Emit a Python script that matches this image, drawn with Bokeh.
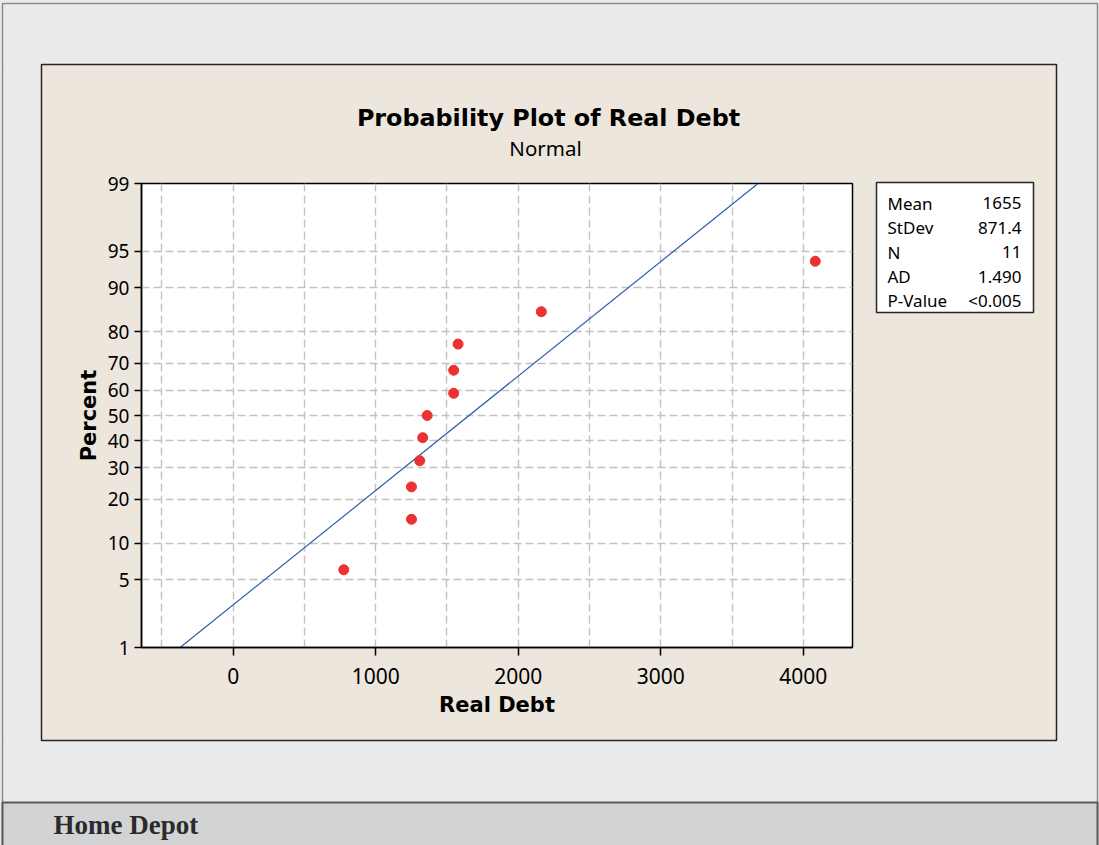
from statistics import NormalDist
from bokeh.plotting import figure
from bokeh.models import FixedTicker, CustomJSTickFormatter, Range1d
from bokeh.core.properties import value
from bokeh.embed import file_html
from bokeh.resources import INLINE

# ---------------- data ----------------
real_debt = [776, 1251, 1251, 1309, 1330, 1361, 1547, 1547, 1578, 2162, 4084]
percent = [6.1, 14.9, 23.7, 32.5, 41.2, 50.0, 58.8, 67.5, 76.3, 85.1, 93.9]
y_tick_pct = [1, 5, 10, 20, 30, 40, 50, 60, 70, 80, 90, 95, 99]
y_tick_labels = ["1", "5", "10", "20", "30", "40", "50", "60", "70", "80", "90", "95", "99"]
x_ticks = [0, 1000, 2000, 3000, 4000]
x_grid_ticks = [-500, 0, 500, 1000, 1500, 2000, 2500, 3000, 3500, 4000]
stat_names = ["Mean", "StDev", "N", "AD", "P-Value"]
stat_values = ["1655", "871.4", "11", "1.490", "<0.005"]
fit_mean = 1655
fit_stdev = 871.4
x_lo, x_hi = -643, 4345
pct_lo, pct_hi = 1, 99

nd = NormalDist()
def z(pct):
    return nd.inv_cdf(pct / 100.0)

zl, zh = z(pct_lo), z(pct_hi)

# ---------------- page geometry (page pixels) ----------------
W, H = 1099, 845
FL, FR, FT, FB = 141, 852, 183, 647

# page pixel -> data coordinate (through the plot's linear scales)
def dx(px):
    return x_lo + (px - FL) * (x_hi - x_lo) / (FR - FL)

def dy(py):
    return zh - (py - FT) * (zh - zl) / (FB - FT)

p = figure(width=W, height=H, output_backend="svg", toolbar_location=None,
           x_range=Range1d(x_lo, x_hi), y_range=Range1d(zl, zh),
           min_border_left=FL, min_border_right=W - FR,
           min_border_top=FT, min_border_bottom=H - FB)
p.border_fill_color = "#ece6dc"
p.background_fill_color = "white"
p.outline_line_color = "black"
p.outline_line_width = 1.5

# axes
p.xaxis.ticker = FixedTicker(ticks=x_ticks)
p.xaxis.major_tick_out = 8
p.xaxis.major_tick_in = 0
p.xaxis.minor_tick_out = 0
p.xaxis.minor_tick_in = 0
p.xaxis.major_label_text_font = "Noto Sans"
p.xaxis.major_label_text_font_size = "21px"
p.xaxis.major_label_text_color = "black"
p.xaxis.major_label_standoff = 12
p.xaxis.axis_label = "Real Debt"
p.xaxis.axis_label_text_font = "DejaVu Sans"
p.xaxis.axis_label_text_font_style = "bold"
p.xaxis.axis_label_text_font_size = "21px"
p.xaxis.axis_label_text_color = "black"
p.xaxis.axis_label_standoff = 6

yt = [z(v) for v in y_tick_pct]
p.yaxis.ticker = FixedTicker(ticks=yt)
p.yaxis.formatter = CustomJSTickFormatter(
    args=dict(tvals=yt, tlabels=y_tick_labels),
    code="""
    let best = 0, bd = 1e9;
    for (let i = 0; i < tvals.length; i++) {
        const d = Math.abs(tvals[i] - tick);
        if (d < bd) { bd = d; best = i; }
    }
    return tlabels[best];
    """)
p.yaxis.major_tick_out = 7
p.yaxis.major_tick_in = 0
p.yaxis.minor_tick_out = 0
p.yaxis.minor_tick_in = 0
p.yaxis.major_label_text_font = "Noto Sans"
p.yaxis.major_label_text_font_size = "19px"
p.yaxis.major_label_text_color = "black"
p.yaxis.major_label_standoff = 5
p.yaxis.axis_label = "Percent"
p.yaxis.axis_label_text_font = "DejaVu Sans"
p.yaxis.axis_label_text_font_style = "bold"
p.yaxis.axis_label_text_font_size = "21px"
p.yaxis.axis_label_text_color = "black"
p.yaxis.axis_label_standoff = 4

for ax in (p.xaxis, p.yaxis):
    ax.axis_line_color = "black"
    ax.axis_line_width = 1.5
    ax.major_tick_line_color = "black"
    ax.major_tick_line_width = 1.5

# grids
p.xgrid.ticker = FixedTicker(ticks=x_grid_ticks)
p.ygrid.ticker = FixedTicker(ticks=[z(v) for v in y_tick_pct[1:-1]])
for g in (p.xgrid, p.ygrid):
    g.grid_line_color = "#c2c2c2"
    g.grid_line_dash = "8 4"
    g.grid_line_width = 1.4

# fitted line and points
p.line([fit_mean + fit_stdev * zl, fit_mean + fit_stdev * zh], [zl, zh],
       line_color="#2c5ead", line_width=1.2)
p.scatter(real_debt, [z(v) for v in percent], size=10, fill_color="#eb3131",
          line_color="#eb3131")

# ---------------- page decorations (drawn above the frame clip) ----------------
GRAY = "#ebebed"
p.quad(left=[dx(-10), dx(-10), dx(1056), dx(-10)],
       right=[dx(1110), dx(41), dx(1110), dx(1110)],
       top=[dy(-10), dy(64), dy(64), dy(740)],
       bottom=[dy(64), dy(740), dy(740), dy(860)],
       fill_color=GRAY, line_color=None, level="overlay")
# outer border
p.quad(left=[dx(2)], right=[dx(1097)], top=[dy(3)], bottom=[dy(860)],
       fill_color=None, line_color="#8a8a8a", line_width=1.5, level="overlay")
# beige panel border
p.quad(left=[dx(41)], right=[dx(1056)], top=[dy(64)], bottom=[dy(740)],
       fill_color=None, line_color="#262626", line_width=1.5, level="overlay")
# footer strip
p.quad(left=[dx(2)], right=[dx(1097)], top=[dy(802)], bottom=[dy(860)],
       fill_color="#d2d3d5", line_color="#5a5a5a", line_width=2, level="overlay")
# stats box
p.quad(left=[dx(876)], right=[dx(1033)], top=[dy(182)], bottom=[dy(312)],
       fill_color="white", line_color="#262626", line_width=1.5, level="overlay")

# text placement: wanted baseline minus a measured render offset
def base(py, size):
    return dy(py - 0.38 * size)

# titles
p.text(x=[dx(548)], y=[base(126.7, 23.8)], text=["Probability Plot of Real Debt"],
       text_align="center", text_baseline="alphabetic",
       text_font=value("DejaVu Sans"), text_font_style="bold",
       text_font_size="23.8px", text_color="black", level="overlay")
p.text(x=[dx(545)], y=[base(155.0, 20.5)], text=["Normal"],
       text_align="center", text_baseline="alphabetic",
       text_font=value("Noto Sans"), text_font_size="20.5px",
       text_color="black", level="overlay")

# stats table
rows_y = [base(209.3 + i * 24.4, 17) for i in range(len(stat_names))]
p.text(x=[dx(887)] * len(stat_names), y=rows_y, text=stat_names,
       text_align="left", text_baseline="alphabetic",
       text_font=value("Noto Sans"), text_font_size="17px",
       text_color="black", level="overlay")
p.text(x=[dx(1021)] * len(stat_values), y=rows_y, text=stat_values,
       text_align="right", text_baseline="alphabetic",
       text_font=value("Noto Sans"), text_font_size="17px",
       text_color="black", level="overlay")

# footer text
p.text(x=[dx(53)], y=[base(834.3, 27)], text=["Home Depot"],
       text_align="left", text_baseline="alphabetic",
       text_font=value("Liberation Serif"), text_font_style="bold",
       text_font_size="27px", text_color="#2a2a2a", level="overlay")

open("out.html", "w").write(file_html(p, INLINE))
